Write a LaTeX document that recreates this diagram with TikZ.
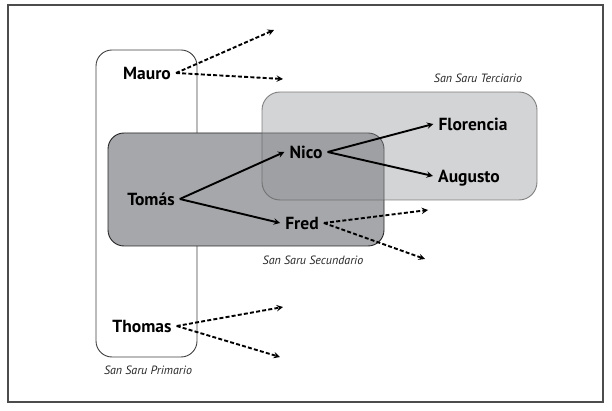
\documentclass[tikz,border=0pt]{standalone}
\usepackage{fontspec}
\setmainfont{PT Sans}
\usetikzlibrary{arrows.meta}
\definecolor{secfill}{RGB}{166,167,170}
\definecolor{terfill}{RGB}{150,152,156}
\begin{document}
\begin{tikzpicture}[x=1pt,y=-1pt,
  person/.style={font=\bfseries\fontsize{17.5}{17.5}\selectfont, inner ysep=1.5pt, inner xsep=5pt, text height=12.3pt, text depth=0pt},
  grp/.style={font=\itshape\fontsize{12}{14}\selectfont, inner sep=0pt, text=black!85},
  arr/.style={line width=1.9pt, -{Stealth[length=6.5pt,width=6.5pt,inset=2.5pt]}},
  darr/.style={arr, dash pattern=on 4pt off 2.2pt},
  box/.style={line width=0.9pt, rounded corners=16pt}]
\useasboundingbox (0,0) rectangle (612,411);
\draw[black!70, line width=1.3pt] (8,5) rectangle (603,402);
% groups
\draw[box, draw=black!75, fill=white] (96,50) rectangle (197,357);
\draw[box, draw=black!85, fill=secfill] (108,133) rectangle (384,246);
\draw[box, rounded corners=18pt, draw=black!60, draw opacity=0.8, fill=terfill, fill opacity=0.42] (262,92) rectangle (537,200);
% group labels
\node[grp] (lter) at (478,78) {San Saru Terciario};
\node[grp] (lsec) at (313,260) {San Saru Secundario};
\node[grp] (lpri) at (148,370) {San Saru Primario};
% people
\node[person] (mauro) at (147,73) {Mauro};
\node[person] (tomas) at (151,199) {Tomás};
\node[person] (nico) at (306,152) {Nico};
\node[person] (fred) at (302,223) {Fred};
\node[person] (flor) at (473,124) {Florencia};
\node[person] (aug) at (469,176) {Augusto};
\node[person] (thomas) at (142,326) {Thomas};
% free ends
\coordinate (m1) at (274,30);
\coordinate (m2) at (283,79);
\coordinate (f1) at (428,210);
\coordinate (f2) at (425,259);
\coordinate (t1) at (283,307);
\coordinate (t2) at (280,357);
% connectors
\draw[arr] (tomas.east) -- (nico.west);
\draw[arr] (tomas.east) -- (fred.west);
\draw[arr] (nico.east) -- (flor.west);
\draw[arr] (nico.east) -- (aug.west);
\draw[darr] (mauro.east) -- (m1);
\draw[darr] (mauro.east) -- (m2);
\draw[darr] (fred.east) -- (f1);
\draw[darr] (fred.east) -- (f2);
\draw[darr] (thomas.east) -- (t1);
\draw[darr] (thomas.east) -- (t2);
\end{tikzpicture}
\end{document}
